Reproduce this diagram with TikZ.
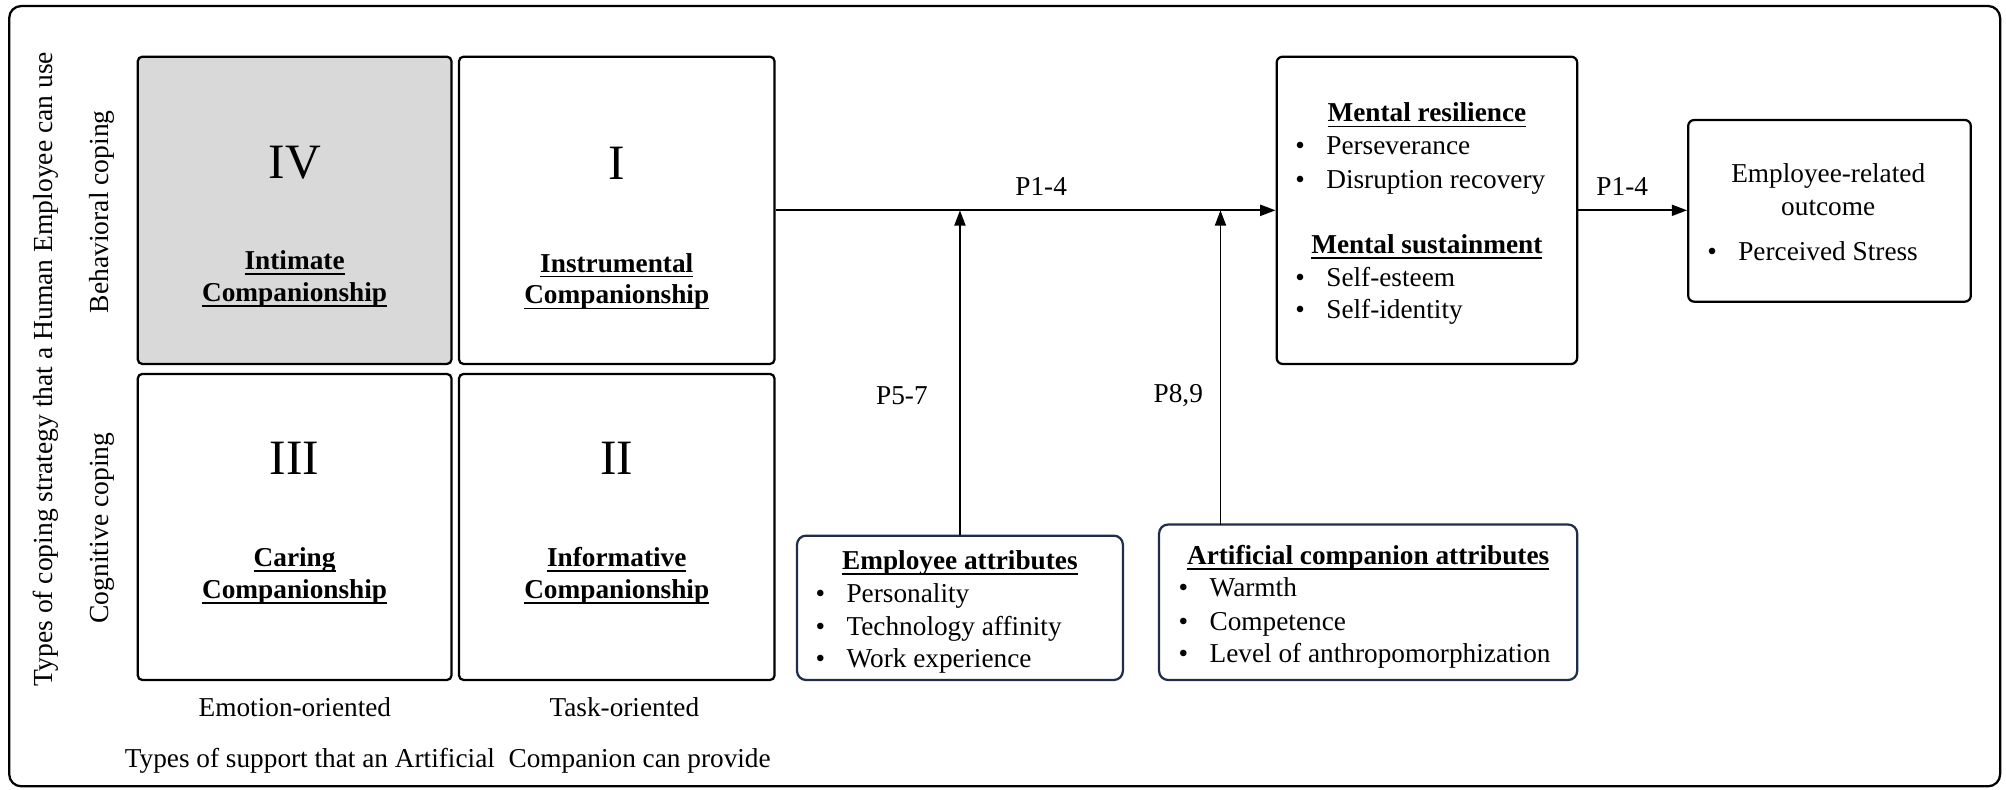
\documentclass[tikz,border=0pt]{standalone}
\usepackage{fontspec}
\setmainfont{Liberation Serif}
\usetikzlibrary{arrows.meta, fit}
\definecolor{quadgray}{HTML}{D9D9D9}
\definecolor{attrnavy}{HTML}{1F2D4A}
\newcommand{\undl}[1]{\sbox0{#1}\rlap{\rule[-3.6pt]{\wd0}{1.1pt}}\usebox0}
\newcommand{\itm}[1]{\makebox[0pt][c]{\textbullet}\hspace{0.615cm}#1}
\tikzset{
every node/.style={font=\fontsize{18.2pt}{21.3pt}\selectfont, inner sep=0pt},
frame/.style={draw, line width=1.5pt, rounded corners=8pt},
quad/.style={draw, line width=1.5pt, rounded corners=3pt},
box/.style={draw, line width=1.5pt, rounded corners=4pt},
attr/.style={draw=attrnavy, line width=1.5pt, rounded corners=6pt},
numeral/.style={font=\fontsize{33pt}{36pt}\selectfont},
qtitle/.style={align=center, font=\fontsize{18.2pt}{21.3pt}\selectfont\bfseries},
head/.style={anchor=mid, font=\fontsize{18.2pt}{21.3pt}\selectfont\bfseries},
item/.style={anchor=mid west},
side/.style={rotate=90, font=\fontsize{18.4pt}{22pt}\selectfont},
arr/.style={-{Triangle[length=0.36cm, width=0.26cm]}, line width=1.2pt},
}
\begin{document}
\begin{tikzpicture}[x=0.03cm, y=-0.03cm]
    \useasboundingbox (0,0) rectangle (1568,617);

    % outer frame
    \node[frame, fit={(7.2,4.7) (1563.4,614.6)}] (frame) {};

    % quadrants
    \node[quad, fill=quadgray, fit={(107.7,44.3) (352.9,284.5)}] (q4) {};
    \node[quad, fit={(358.8,44.3) (605.4,284.5)}] (q1) {};
    \node[quad, fit={(107.7,292.3) (352.9,531.5)}] (q3) {};
    \node[quad, fit={(358.8,292.3) (605.4,531.5)}] (q2) {};

    % numerals
    \node[numeral] (n4) at (230.3,127) {IV};
    \node[numeral] (n1) at (482.1,127.5) {I};
    \node[numeral] (n3) at (230.3,358) {III};
    \node[numeral] (n2) at (482.1,358) {II};

    % quadrant titles
    \node[qtitle] (t4) at (230.3,218) {\undl{Intimate}\\\undl{Companionship}};
    \node[qtitle] (t1) at (482.1,220) {\undl{Instrumental}\\\undl{Companionship}};
    \node[qtitle] (t3) at (230.3,450) {\undl{Caring}\\\undl{Companionship}};
    \node[qtitle] (t2) at (482.1,450) {\undl{Informative}\\\undl{Companionship}};

    % axis labels
    \node[side] (ylab) at (36,288.5) {Types of coping strategy that a Human Employee can use};
    \node[side] (beh) at (80,165.5) {Behavioral coping};
    \node[side] (cog) at (80,412.8) {Cognitive coping};
    \node (emo) at (230.5,552.5) {Emotion-oriented};
    \node (task) at (488,552.5) {Task-oriented};
    \node (xlab) at (350,594.5) {Types of support that an Artificial\ \ Companion can provide};

    % mediators
    \node[box, fit={(997.9,44.3) (1232.8,284.5)}] (ment) {};
    \node[head] (mres) at (1115.3,92.6) {\undl{Mental resilience}};
    \node[item] (m1) at (1016,118) {\itm{Perseverance}};
    \node[item] (m2) at (1016,144.7) {\itm{Disruption recovery}};
    \node[head] (msus) at (1115.3,195.5) {\undl{Mental sustainment}};
    \node[item] (m3) at (1016,221) {\itm{Self-esteem}};
    \node[item] (m4) at (1016,246.3) {\itm{Self-identity}};

    % outcome
    \node[box, fit={(1319.6,93.8) (1540.5,235.8)}] (outc) {};
    \node[align=center, font=\fontsize{18.2pt}{22.1pt}\selectfont] (otit) at (1429,148.5) {Employee-related\\outcome};
    \node[item] (o1) at (1338,201) {\itm{Perceived Stress}};

    % moderators
    \node[attr, fit={(623,418.7) (877.7,531.5)}] (emp) {};
    \node[head] (ehead) at (750.3,442.2) {\undl{Employee attributes}};
    \node[item] (e1) at (641,468.2) {\itm{Personality}};
    \node[item] (e2) at (641,494.4) {\itm{Technology affinity}};
    \node[item] (e3) at (641,519) {\itm{Work experience}};

    \node[attr, fit={(906,410) (1232.8,531.5)}] (art) {};
    \node[head] (ahead) at (1069.4,438.5) {\undl{Artificial companion attributes}};
    \node[item] (a1) at (924.8,463.6) {\itm{Warmth}};
    \node[item] (a2) at (924.8,490.2) {\itm{Competence}};
    \node[item] (a3) at (924.8,515.5) {\itm{Level of anthropomorphization}};

    % paths
    \coordinate (j1) at (emp.north |- q1.east);
    \coordinate (a9) at (954,410);
    \coordinate (j2) at (a9 |- q1.east);
    \draw[arr] (q1.east) -- (ment.west);
    \draw[arr] (ment.east) -- (ment.east -| outc.west);
    \draw[arr] (emp.north) -- (j1);
    \draw[arr] (a9) -- (j2);

    % path labels
    \node (p14a) at (813.8,145.5) {P1-4};
    \node (p14b) at (1268,145.5) {P1-4};
    \node (p57) at (705,309.5) {P5-7};
    \node (p89) at (921,309.5) {P8,9};
\end{tikzpicture}
\end{document}
